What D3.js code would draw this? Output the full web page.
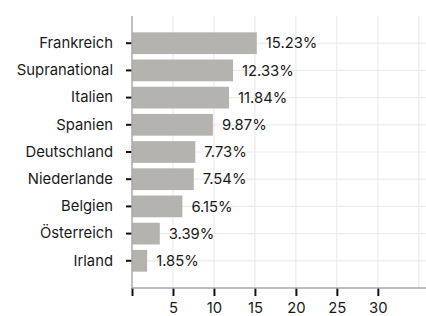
<!DOCTYPE html>
<html>
<head>
<meta charset="utf-8">
<script src="https://cdn.jsdelivr.net/npm/d3@7"></script>
<style>
  body { margin: 0; background: #fff; }
  svg { display: block; font-family: Inter, "Noto Sans", sans-serif; }
</style>
</head>
<body>
<div class="chart"></div>
<script>
const countries = ["Frankreich", "Supranational", "Italien", "Spanien", "Deutschland", "Niederlande", "Belgien", "Österreich", "Irland"]
const shares = [15.23, 12.33, 11.84, 9.87, 7.73, 7.54, 6.15, 3.39, 1.85]
const xTicks = [0, 5, 10, 15, 20, 25, 30]
const gridTicks = [5, 10, 15, 20, 25, 30, 35]

const w = 426
const h = 316
const padLeft = 132
const padTop = 16
const axisY = 288
const fontSize = 14.8

const svg = d3.select(".chart")
  .append("svg")
  .attr("width", w)
  .attr("height", h)

// scales
const xScale = d3.scaleLinear()
  .domain([0, 36])
  .range([padLeft, w + 1])

const yScale = d3.scaleBand()
  .domain(countries)
  .range([padTop, axisY])
  .paddingInner(0.2)
  .paddingOuter(0.6)

// grid
svg.append("g")
  .selectAll("line")
  .data(gridTicks)
  .enter()
  .append("line")
  .attr("x1", d => xScale(d))
  .attr("x2", d => xScale(d))
  .attr("y1", padTop)
  .attr("y2", axisY)
  .attr("stroke", "#ebebeb")
  .attr("stroke-width", 1.2)

svg.append("g")
  .selectAll("line")
  .data(countries)
  .enter()
  .append("line")
  .attr("x1", padLeft)
  .attr("x2", w)
  .attr("y1", d => yScale(d) + yScale.bandwidth() / 2)
  .attr("y2", d => yScale(d) + yScale.bandwidth() / 2)
  .attr("stroke", "#ebebeb")
  .attr("stroke-width", 1.2)

// bars
svg.selectAll(".bar")
  .data(countries)
  .enter()
  .append("rect")
  .attr("class", "bar")
  .attr("x", xScale(0))
  .attr("y", d => yScale(d))
  .attr("width", (d, i) => xScale(shares[i]) - xScale(0))
  .attr("height", yScale.bandwidth())
  .attr("fill", "#b4b3af")

// value labels
svg.selectAll(".val")
  .data(countries)
  .enter()
  .append("text")
  .attr("class", "val")
  .attr("x", (d, i) => xScale(shares[i]) + 9)
  .attr("y", d => yScale(d) + yScale.bandwidth() / 2)
  .attr("dy", "0.35em")
  .attr("font-size", fontSize)
  .attr("fill", "#1a1a1a")
  .text((d, i) => shares[i].toFixed(2) + "%")

// axes
const yAxis = d3.axisLeft(yScale).tickSize(6).tickPadding(13)
const gy = svg.append("g")
  .attr("transform", "translate(" + padLeft + ",0)")
  .call(yAxis)
gy.select(".domain").remove()
gy.selectAll(".tick line").attr("stroke", "#111").attr("stroke-width", 2)
gy.selectAll("text").attr("font-size", fontSize).attr("fill", "#1a1a1a").attr("font-family", "Inter, sans-serif")

const xAxis = d3.axisBottom(xScale).tickValues(xTicks).tickSize(8).tickPadding(6)
  .tickFormat(d => d === 0 ? "" : d)
const gx = svg.append("g")
  .attr("transform", "translate(0," + axisY + ")")
  .call(xAxis)
gx.select(".domain").remove()
gx.selectAll(".tick line").attr("stroke", "#111").attr("stroke-width", 2)
gx.selectAll("text").attr("font-size", fontSize).attr("fill", "#1a1a1a").attr("font-family", "Inter, sans-serif")

// axis lines
svg.append("line")
  .attr("x1", padLeft).attr("x2", padLeft)
  .attr("y1", padTop).attr("y2", axisY)
  .attr("stroke", "#a8a8a8").attr("stroke-width", 1.5)
svg.append("line")
  .attr("x1", padLeft).attr("x2", w)
  .attr("y1", axisY).attr("y2", axisY)
  .attr("stroke", "#a8a8a8").attr("stroke-width", 1.5)
</script>
</body>
</html>
